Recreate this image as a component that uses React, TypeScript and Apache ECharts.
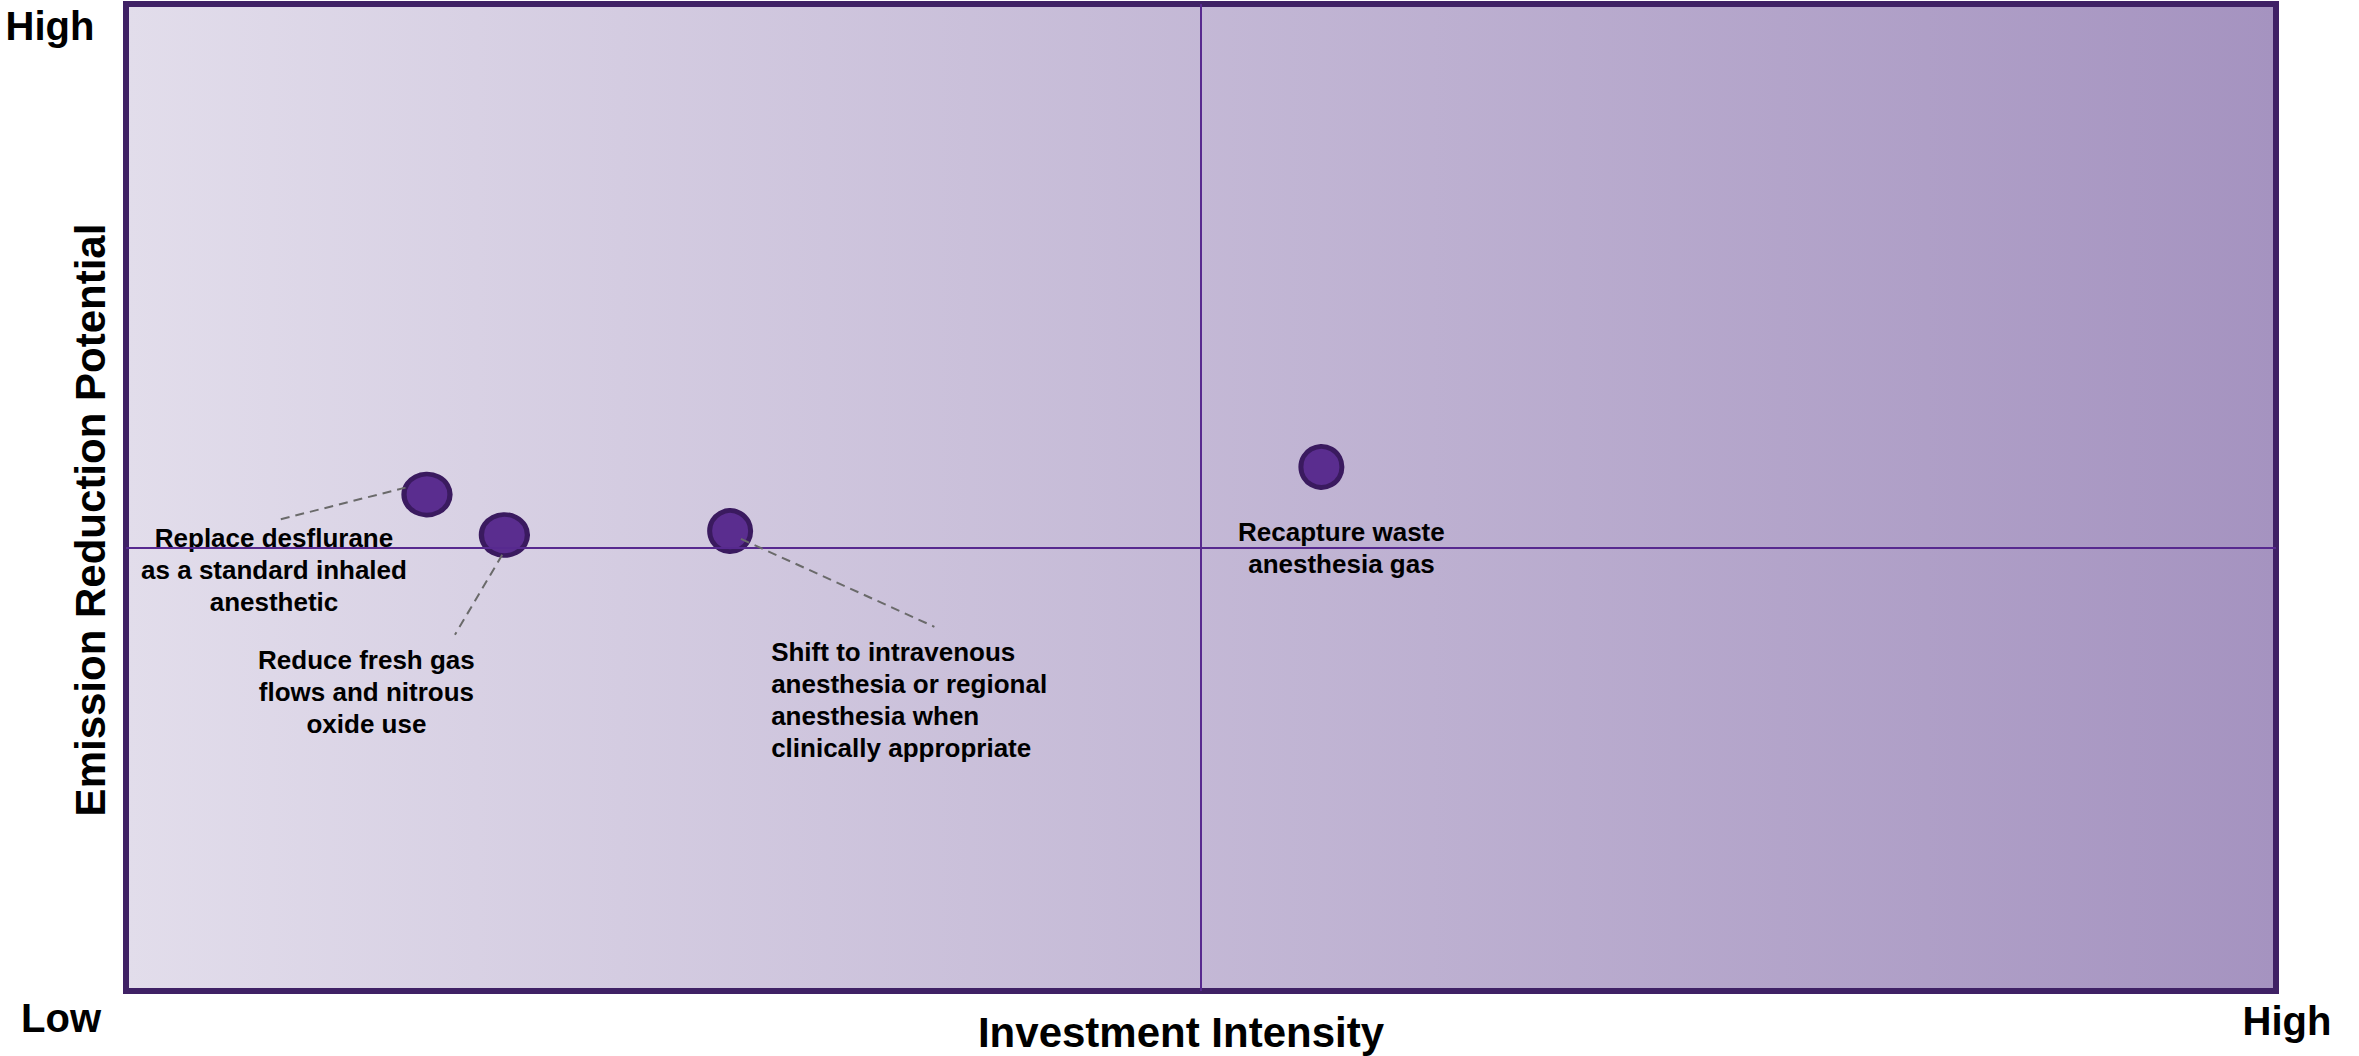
import React, { useEffect, useRef } from "react";
import * as echarts from "echarts";

// ---- data ----
const initiatives = [
  "Replace desflurane\nas a standard inhaled\nanesthetic",
  "Reduce fresh gas\nflows and nitrous\noxide use",
  "Shift to intravenous\nanesthesia or regional\nanesthesia when\nclinically appropriate",
  "Recapture waste\nanesthesia gas",
];
const investmentIntensity = [1.40, 1.76, 2.81, 5.56];
const emissionReduction = [5.03, 4.62, 4.66, 5.31];
const midInvestment = 5;
const midEmission = 4.49;
// leader lines: [x, y] in data units
const leaderFrom = [
  [0.72, 4.78],
  [1.75, 4.42],
  [2.86, 4.58],
];
const leaderTo = [
  [1.30, 5.10],
  [1.53, 3.61],
  [3.76, 3.69],
];
const axisMin = 0;
const axisMax = 10;

// ---- styles (not data) ----
const labelOffsets = [
  [-153, 75],
  [-138, 157],
  [41, 169],
  [20, 81],
];
const labelAligns = ["center", "center", "left", "center"];
const symbolSizes: any[] = [[46, 41], [46, 41], 41, 41];

const FONT = "'Liberation Sans', Arial, Helvetica, sans-serif";

export default function App() {
  const ref = useRef<HTMLDivElement>(null);
  useEffect(() => {
    document.body.style.margin = "0";
    const chart = echarts.init(ref.current!, null, { renderer: "svg" });
    const points = initiatives.map((name, i) => ({
      name,
      value: [investmentIntensity[i], emissionReduction[i]],
      symbolSize: symbolSizes[i],
      label: {
        show: true,
        position: "inside",
        formatter: name,
        offset: labelOffsets[i],
        align: labelAligns[i],
        verticalAlign: "middle",
        color: "#000",
        fontFamily: FONT,
        fontWeight: "bold",
        fontSize: 26,
        lineHeight: 32,
      },
    }));
    const leaders = leaderFrom.map((f, i) => [
      { coord: f },
      { coord: leaderTo[i] },
    ]);
    const titleStyle = {
      fill: "#000",
      fontFamily: FONT,
      fontWeight: "bold",
      fontSize: 42,
      align: "center",
      verticalAlign: "middle",
    };
    const cornerStyle = { ...titleStyle, fontSize: 40 };
    chart.setOption({
      animation: false,
      grid: {
        left: 126,
        top: 4,
        width: 2150,
        height: 987,
        show: true,
        borderColor: "#3f2165",
        borderWidth: 6,
        backgroundColor: new echarts.graphic.LinearGradient(0, 0, 1, 0, [
          { offset: 0, color: "#e2ddeb" },
          { offset: 1, color: "#a593c0" },
        ]),
      },
      xAxis: {
        type: "value",
        min: axisMin,
        max: axisMax,
        axisLine: { show: false },
        axisTick: { show: false },
        axisLabel: { show: false },
        splitLine: { show: false },
      },
      yAxis: {
        type: "value",
        min: axisMin,
        max: axisMax,
        axisLine: { show: false },
        axisTick: { show: false },
        axisLabel: { show: false },
        splitLine: { show: false },
      },
      graphic: [
        { type: "text", x: 50, y: 26, style: { ...cornerStyle, text: "High" } },
        { type: "text", x: 61, y: 1018, style: { ...cornerStyle, text: "Low" } },
        { type: "text", x: 2287, y: 1021, style: { ...cornerStyle, text: "High" } },
        { type: "text", x: 1181, y: 1032, style: { ...titleStyle, text: "Investment Intensity" } },
        {
          type: "text",
          x: 90,
          y: 520,
          rotation: Math.PI / 2,
          style: { ...titleStyle, text: "Emission Reduction Potential" },
        },
      ],
      series: [
        {
          type: "scatter",
          data: [],
          z: 1,
          silent: true,
          markLine: {
            silent: true,
            symbol: "none",
            label: { show: false },
            lineStyle: { color: "#57298f", width: 2, type: "solid" },
            data: [{ xAxis: midInvestment }, { yAxis: midEmission }],
          },
        },
        {
          type: "scatter",
          data: [],
          z: 2,
          silent: true,
          markLine: {
            silent: true,
            symbol: "none",
            label: { show: false },
            lineStyle: { color: "#6a6a6a", width: 2, type: [9, 6] },
            data: leaders,
          },
        },
        {
          type: "scatter",
          z: 3,
          data: points,
          itemStyle: {
            color: "#5a2d8f",
            borderColor: "#3a1a5f",
            borderWidth: 5,
            opacity: 1,
          },
        },
      ],
    });
    return () => chart.dispose();
  }, []);
  return <div ref={ref} style={{ width: 2359, height: 1056 }} />;
}
